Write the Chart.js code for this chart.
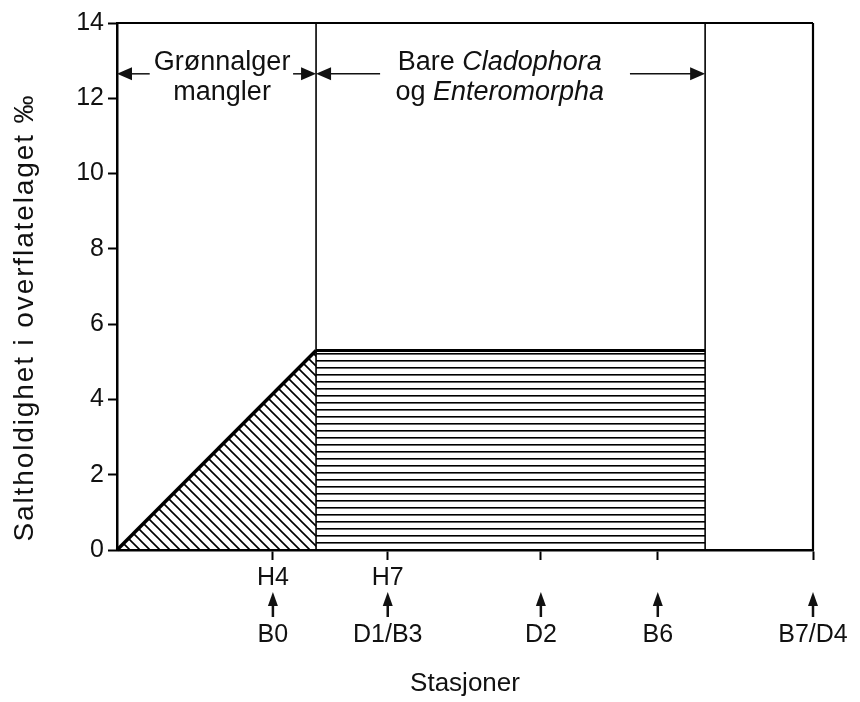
<!DOCTYPE html>
<html><head><meta charset="utf-8">
<script src="https://cdn.jsdelivr.net/npm/chart.js@4/dist/chart.umd.min.js"></script>
<style>html,body{margin:0;padding:0;background:#fff}canvas{display:block}</style>
</head><body>
<canvas id="c" width="860" height="702"></canvas>
<script>
// ---------------- data ----------------
const stationPositions = [22.4, 38.9, 60.9, 77.7, 100];
const stationUpper = ['H4', 'H7', '', '', ''];
const stationLower = ['B0', 'D1/B3', 'D2', 'B6', 'B7/D4'];
const zoneEdges = [0, 28.6, 84.5, 100];
const salinityX = [0, 28.6, 84.5];
const salinityY = [0, 5.3, 5.3];
const yMin = 0, yMax = 14, yStep = 2;
const xMin = 0, xMax = 100;
const zoneLabelX = [15.1, 55.0];
const zone1Lines = [[['Grønnalger', false]], [['mangler', false]]];
const zone2Lines = [[['Bare ', false], ['Cladophora', true]], [['og ', false], ['Enteromorpha', true]]];
const zoneArrows = [[4.7, 0], [25.3, 28.6], [37.8, 28.6], [73.7, 84.5]]; // [shaft start, tip]
const zoneArrowLevel = 12.65;
const yTitle = 'Saltholdighet i overflatelaget \u2030';
const xTitle = 'Stasjoner';

// ---------------- styles ----------------
const FONT = "'Liberation Sans', Arial, Helvetica, sans-serif";
const INK = '#111';

function makePattern(kind) {
  const c = document.createElement('canvas');
  const g = c.getContext('2d');
  if (kind === 'h') {
    c.width = 8; c.height = 7;
    g.fillStyle = '#000'; g.fillRect(0, 3, 8, 1);
    g.fillStyle = 'rgba(0,0,0,0.6)'; g.fillRect(0, 4, 8, 1);
  } else {
    const s = 10; c.width = s; c.height = s;
    g.strokeStyle = '#000'; g.lineWidth = 1.6; g.beginPath();
    for (const k of [-s, 0, s]) { g.moveTo(-s, -s + k); g.lineTo(2 * s, 2 * s + k); }
    g.stroke();
  }
  return g.createPattern(c, 'repeat');
}

const lineDs = (pts, w, extra) => Object.assign({
  data: pts, showLine: true, pointRadius: 0, borderColor: '#000', borderWidth: w,
  fill: false, clip: false, tension: 0
}, extra || {});

const datasets = [
  lineDs([{x: salinityX[0], y: salinityY[0]}, {x: salinityX[1], y: salinityY[1]}], 3.5,
    {fill: 'origin', backgroundColor: makePattern('d')}),
  lineDs([{x: salinityX[1], y: salinityY[1]}, {x: salinityX[2], y: salinityY[2]}], 3,
    {fill: 'origin', backgroundColor: makePattern('h')}),
  lineDs([{x: zoneEdges[1], y: yMin}, {x: zoneEdges[1], y: yMax}], 1.6),
  lineDs([{x: zoneEdges[2], y: yMin}, {x: zoneEdges[2], y: yMax}], 1.6),
  lineDs([{x: zoneEdges[3], y: yMin}, {x: zoneEdges[3], y: yMax}], 2.2),
  lineDs([{x: zoneEdges[0], y: yMax}, {x: zoneEdges[3], y: yMax}], 2.2)
];

function drawHArrow(ctx, x0, xt, yy) {
  const dir = xt > x0 ? 1 : -1;
  const head = 15;
  ctx.beginPath();
  ctx.lineWidth = 1.5;
  ctx.moveTo(x0, yy); ctx.lineTo(xt - dir * head + dir, yy); ctx.stroke();
  ctx.beginPath();
  ctx.moveTo(xt, yy); ctx.lineTo(xt - dir * head, yy - 6.5); ctx.lineTo(xt - dir * head, yy + 6.5);
  ctx.closePath(); ctx.fill();
}

function drawMixedLine(ctx, segs, cx, by, size) {
  const fonts = segs.map(s => (s[1] ? 'italic ' : '') + size + 'px ' + FONT);
  let total = 0;
  const widths = segs.map((s, i) => { ctx.font = fonts[i]; const w = ctx.measureText(s[0]).width; total += w; return w; });
  let x = cx - total / 2;
  ctx.textAlign = 'left'; ctx.textBaseline = 'alphabetic';
  segs.forEach((s, i) => { ctx.font = fonts[i]; ctx.fillText(s[0], x, by); x += widths[i]; });
}

const annotate = {
  id: 'annotate',
  beforeDraw(chart) {
    const ctx = chart.ctx; ctx.save(); ctx.fillStyle = '#fff';
    ctx.fillRect(0, 0, chart.width, chart.height); ctx.restore();
  },
  afterDraw(chart) {
    const {ctx, chartArea, scales: {x, y}} = chart;
    ctx.save();
    ctx.fillStyle = INK; ctx.strokeStyle = INK;
    // zone arrows
    const ay = y.getPixelForValue(zoneArrowLevel);
    zoneArrows.forEach(a => drawHArrow(ctx, x.getPixelForValue(a[0]), x.getPixelForValue(a[1]), ay));
    // zone labels
    const t = chartArea.top;
    [zone1Lines, zone2Lines].forEach((lines, zi) => {
      const cx = x.getPixelForValue(zoneLabelX[zi]);
      lines.forEach((segs, li) => drawMixedLine(ctx, segs, cx, t + 47 + li * 30, 27));
    });
    // station arrows
    stationPositions.forEach(v => {
      const px = x.getPixelForValue(v);
      const tip = chartArea.bottom + 42, end = chartArea.bottom + 67;
      ctx.lineWidth = 2.5;
      ctx.beginPath(); ctx.moveTo(px, tip + 10); ctx.lineTo(px, end); ctx.stroke();
      ctx.beginPath(); ctx.moveTo(px, tip); ctx.lineTo(px - 5, tip + 14); ctx.lineTo(px + 5, tip + 14);
      ctx.closePath(); ctx.fill();
    });
    // y title
    ctx.font = '28px ' + FONT;
    ctx.textAlign = 'center'; ctx.textBaseline = 'alphabetic';
    const w = ctx.measureText(yTitle).width;
    const target = 448;
    const sp = Math.max(0, (target - w) / yTitle.length);
    ctx.translate(33, (chartArea.top + chartArea.bottom) / 2 + 32);
    ctx.rotate(-Math.PI / 2);
    if ('letterSpacing' in ctx) ctx.letterSpacing = sp.toFixed(2) + 'px';
    ctx.fillText(yTitle, sp / 2, 0);
    ctx.restore();
  }
};

new Chart(document.getElementById('c'), {
  type: 'scatter',
  data: {datasets},
  options: {
    responsive: false,
    animation: false,
    events: [],
    layout: {padding: {top: 23, right: 47, left: 0, bottom: 0}},
    plugins: {legend: {display: false}, tooltip: {enabled: false}},
    scales: {
      x: {
        type: 'linear', min: xMin, max: xMax,
        afterFit(s) { s.height = 152; },
        afterBuildTicks(s) { s.ticks = stationPositions.map(v => ({value: v})); },
        grid: {display: true, drawOnChartArea: false, tickLength: 10, tickWidth: 2, tickColor: '#000'},
        border: {display: true, color: '#000', width: 2.5},
        ticks: {
          autoSkip: false, maxRotation: 0, minRotation: 0, padding: 4, color: INK,
          font: {family: FONT, size: 25, lineHeight: 1.14},
          callback: (v, i) => [stationUpper[i], '', stationLower[i]]
        },
        title: {display: true, text: xTitle, color: INK, font: {family: FONT, size: 26, lineHeight: 1.2},
          padding: {top: 10, bottom: 3}}
      },
      y: {
        type: 'linear', min: yMin, max: yMax,
        afterFit(s) { s.width = 117; },
        grid: {display: true, drawOnChartArea: false, tickLength: 9, tickWidth: 2, tickColor: '#000'},
        border: {display: true, color: '#000', width: 2.5},
        ticks: {stepSize: yStep, padding: 4, color: INK, font: {family: FONT, size: 25}},
        title: {display: false}
      }
    }
  },
  plugins: [annotate]
});
</script>
</body></html>
